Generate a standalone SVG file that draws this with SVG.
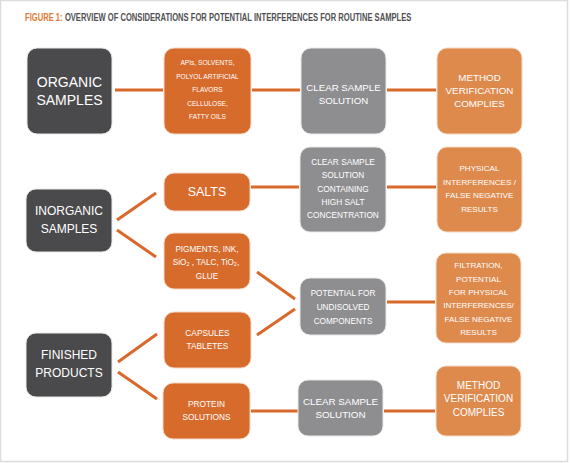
<svg xmlns="http://www.w3.org/2000/svg" width="570" height="463" viewBox="0 0 570 463">
<style>
.t{font-family:"Liberation Sans",Arial,sans-serif;fill:#fff;text-anchor:middle;dominant-baseline:central}
.dk{fill:#4a4a4c;stroke:#e8e8e8;stroke-width:1}
.or{fill:#d76b2c;stroke:#f3d9c6;stroke-width:1}
.lo{fill:#de8a4d;stroke:#f3d9c6;stroke-width:1}
.gr{fill:#8e8e91;stroke:#e8e8e8;stroke-width:1}
.c line{stroke:#d8692b;stroke-width:3;fill:none}
.ttl{font-family:"Liberation Sans",Arial,sans-serif;font-weight:bold;font-size:10px}
</style>
<rect x="0" y="0" width="570" height="463" fill="#fff"/>
<rect x="0.5" y="0.5" width="567" height="461" fill="none" stroke="#dcdcdc" stroke-width="1.5"/>
<g id="title" transform="translate(25,21) scale(0.76,1)">
<text class="ttl" x="0" y="0" fill="#e07a36">FIGURE 1:</text>
<text class="ttl" x="52.5" y="0" fill="#505052">OVERVIEW OF CONSIDERATIONS FOR POTENTIAL INTERFERENCES FOR ROUTINE SAMPLES</text>
</g>

<g class="c" id="connectors">
<line x1="115" y1="90" x2="163" y2="90"/>
<line x1="252" y1="90" x2="300" y2="90"/>
<line x1="387" y1="90" x2="436" y2="90"/>
<line x1="117" y1="220" x2="156" y2="193"/>
<line x1="117" y1="230" x2="156" y2="257"/>
<line x1="251" y1="187" x2="299" y2="187"/>
<line x1="387" y1="187" x2="436" y2="187"/>
<line x1="257" y1="272" x2="295" y2="299"/>
<line x1="257" y1="335" x2="295" y2="309"/>
<line x1="387" y1="302" x2="435" y2="302"/>
<line x1="118" y1="362" x2="157" y2="334"/>
<line x1="118" y1="372" x2="157" y2="399"/>
<line x1="251" y1="411" x2="298" y2="411"/>
<line x1="384" y1="411" x2="435" y2="411"/>
</g>

<g id="organic">
<rect class="dk" x="27" y="48" width="85" height="86" rx="10"/>
<text class="t" font-size="14"><tspan x="69.5" y="82">ORGANIC</tspan><tspan x="69.5" y="100">SAMPLES</tspan></text>
</g>
<g id="apis">
<rect class="or" x="164" y="48" width="87" height="86" rx="10"/>
<text class="t" font-size="6.6"><tspan x="207.5" y="62">APIs, SOLVENTS,</tspan><tspan x="207.5" y="75.5">POLYOL ARTIFICIAL</tspan><tspan x="207.5" y="89">FLAVORS</tspan><tspan x="207.5" y="102.5">CELLULOSE,</tspan><tspan x="207.5" y="116">FATTY OILS</tspan></text>
</g>
<g id="clear1">
<rect class="gr" x="301" y="48" width="85" height="86" rx="10"/>
<text class="t" font-size="9.7"><tspan x="343.5" y="87">CLEAR SAMPLE</tspan><tspan x="343.5" y="100">SOLUTION</tspan></text>
</g>
<g id="method1">
<rect class="lo" x="437" y="48" width="85" height="86" rx="10"/>
<text class="t" font-size="9.8"><tspan x="479.5" y="77">METHOD</tspan><tspan x="479.5" y="90">VERIFICATION</tspan><tspan x="479.5" y="103">COMPLIES</tspan></text>
</g>

<g id="inorganic">
<rect class="dk" x="26" y="189" width="86" height="63" rx="10"/>
<text class="t" font-size="12"><tspan x="69" y="211">INORGANIC</tspan><tspan x="69" y="229">SAMPLES</tspan></text>
</g>
<g id="salts">
<rect class="or" x="164" y="173" width="86" height="38" rx="10"/>
<text class="t" font-size="12.5" x="207" y="192">SALTS</text>
</g>
<g id="clear2">
<rect class="gr" x="300" y="147" width="86" height="85" rx="10"/>
<text class="t" font-size="8.3"><tspan x="343" y="162">CLEAR SAMPLE</tspan><tspan x="343" y="175">SOLUTION</tspan><tspan x="343" y="188.5">CONTAINING</tspan><tspan x="343" y="202">HIGH SALT</tspan><tspan x="343" y="215">CONCENTRATION</tspan></text>
</g>
<g id="physical">
<rect class="lo" x="437" y="147" width="85" height="85" rx="10"/>
<text class="t" font-size="8.1"><tspan x="479.5" y="168">PHYSICAL</tspan><tspan x="479.5" y="182">INTERFERENCES /</tspan><tspan x="479.5" y="195">FALSE NEGATIVE</tspan><tspan x="479.5" y="209">RESULTS</tspan></text>
</g>
<g id="pigments">
<rect class="or" x="164" y="233" width="86" height="56" rx="10"/>
<text class="t" font-size="8.2"><tspan x="207" y="249">PIGMENTS, INK,</tspan><tspan x="206" y="262">SiO<tspan font-size="5.5" dy="2">2</tspan><tspan dy="-2"> , TALC, TiO</tspan><tspan font-size="5.5" dy="2">2</tspan><tspan dy="-2">,</tspan></tspan><tspan x="207" y="276">GLUE</tspan></text>
</g>
<g id="potential">
<rect class="gr" x="300" y="278" width="86" height="57" rx="10"/>
<text class="t" font-size="8.2"><tspan x="343" y="293">POTENTIAL FOR</tspan><tspan x="343" y="307">UNDISOLVED</tspan><tspan x="343" y="321">COMPONENTS</tspan></text>
</g>
<g id="filtration">
<rect class="lo" x="436" y="253" width="85" height="90" rx="10"/>
<text class="t" font-size="8.1"><tspan x="478.5" y="265">FILTRATION,</tspan><tspan x="478.5" y="278.5">POTENTIAL</tspan><tspan x="478.5" y="292">FOR PHYSICAL</tspan><tspan x="478.5" y="305">INTERFERENCES/</tspan><tspan x="478.5" y="318.5">FALSE NEGATIVE</tspan><tspan x="478.5" y="332">RESULTS</tspan></text>
</g>

<g id="finished">
<rect class="dk" x="26" y="333" width="86" height="64" rx="10"/>
<text class="t" font-size="12"><tspan x="69" y="355">FINISHED</tspan><tspan x="69" y="373">PRODUCTS</tspan></text>
</g>
<g id="capsules">
<rect class="or" x="164" y="312" width="87" height="56" rx="10"/>
<text class="t" font-size="8.3"><tspan x="207.5" y="333">CAPSULES</tspan><tspan x="207.5" y="346">TABLETES</tspan></text>
</g>
<g id="protein">
<rect class="or" x="163" y="383" width="87" height="56" rx="10"/>
<text class="t" font-size="8.3"><tspan x="206.5" y="404">PROTEIN</tspan><tspan x="206.5" y="417">SOLUTIONS</tspan></text>
</g>
<g id="clear3">
<rect class="gr" x="298" y="380" width="85" height="56" rx="10"/>
<text class="t" font-size="9.8"><tspan x="340.5" y="401">CLEAR SAMPLE</tspan><tspan x="340.5" y="414">SOLUTION</tspan></text>
</g>
<g id="method2">
<rect class="lo" x="436" y="366" width="85" height="70" rx="10"/>
<text class="t" font-size="10"><tspan x="478.5" y="385">METHOD</tspan><tspan x="478.5" y="398">VERIFICATION</tspan><tspan x="478.5" y="412">COMPLIES</tspan></text>
</g>
</svg>
